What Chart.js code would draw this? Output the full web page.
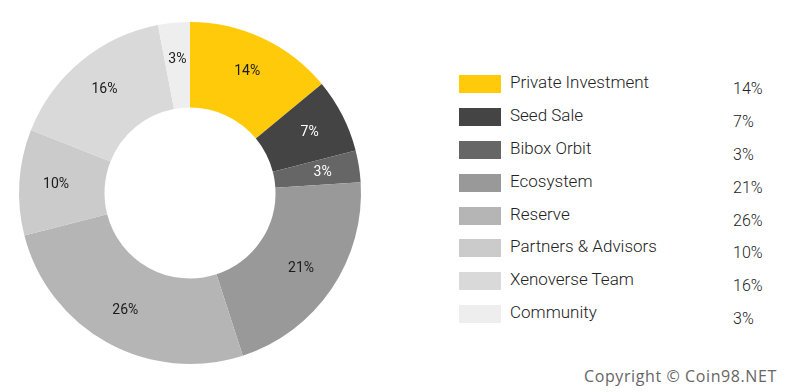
<!DOCTYPE html>
<html>
<head>
<meta charset="utf-8">
<script src="https://cdn.jsdelivr.net/npm/chart.js@4"></script>
<style>
  body { margin: 0; background: #fff; width: 794px; height: 392px; position: relative; overflow: hidden; font-family: Roboto, sans-serif; }
  #chartBox { position: absolute; left: 0; top: 0; width: 380px; height: 386px; }
  #legend { position: absolute; left: 459px; top: 75px; }
  .row { position: relative; height: 32.9px; }
  .sw { position: absolute; left: 0; top: 0; width: 42px; height: 18px; }
  .lab { position: absolute; left: 51px; top: -3px; font-size: 17px; font-weight: 300; color: #222; white-space: nowrap; }
  .pct { position: absolute; left: 274px; top: 4px; font-size: 16px; font-weight: 300; color: #222; }
  #copy { position: absolute; left: 584px; top: 365px; font-family: "Open Sans", sans-serif; font-size: 16px; letter-spacing: 0.6px; color: #666; }
</style>
</head>
<body>
<div id="chartBox"><canvas id="donut"></canvas></div>
<div id="legend"></div>
<div id="copy">Copyright © Coin98.NET</div>
<script>
const categories = ['Private Investment', 'Seed Sale', 'Bibox Orbit', 'Ecosystem', 'Reserve', 'Partners & Advisors', 'Xenoverse Team', 'Community'];
const shares = [14, 7, 3, 21, 26, 10, 16, 3];
const sliceColors = ['#ffca0a', '#444444', '#666666', '#999999', '#b5b5b5', '#cbcbcb', '#d9d9d9', '#eeeeee'];
const labelColors = ['#1a1a1a', '#fff', '#fff', '#1a1a1a', '#1a1a1a', '#1a1a1a', '#1a1a1a', '#1a1a1a'];

// legend on the right
const legend = document.getElementById('legend');
categories.forEach((name, i) => {
    const row = document.createElement('div');
    row.className = 'row';
    row.innerHTML = `<div class="sw" style="background:${sliceColors[i]}"></div>` +
        `<div class="lab">${name.replace('&', '&amp;')}</div>` +
        `<div class="pct">${shares[i]}%</div>`;
    legend.appendChild(row);
});

// percentage labels inside the ring
const sliceLabels = {
    id: 'sliceLabels',
    afterDatasetsDraw(chart) {
        const ctx = chart.ctx;
        const meta = chart.getDatasetMeta(0);
        ctx.save();
        ctx.font = '400 14px Roboto';
        ctx.textAlign = 'center';
        ctx.textBaseline = 'middle';
        meta.data.forEach((arc, i) => {
            const p = arc.getProps(['x', 'y', 'startAngle', 'endAngle', 'innerRadius', 'outerRadius']);
            const mid = (p.startAngle + p.endAngle) / 2;
            const r = p.innerRadius + (p.outerRadius - p.innerRadius) * 0.57;
            ctx.fillStyle = labelColors[i];
            ctx.fillText(shares[i] + '%', p.x + Math.cos(mid) * r, p.y + Math.sin(mid) * r);
        });
        ctx.restore();
    }
};

new Chart(document.getElementById('donut'), {
    type: 'doughnut',
    data: {
        labels: categories,
        datasets: [{
            data: shares,
            backgroundColor: sliceColors,
            borderWidth: 0
        }]
    },
    options: {
        responsive: true,
        maintainAspectRatio: false,
        animation: false,
        cutout: '50%',
        layout: { padding: { top: 22, bottom: 22 } },
        plugins: {
            legend: { display: false },
            tooltip: { enabled: false }
        }
    },
    plugins: [sliceLabels]
});
</script>
</body>
</html>
